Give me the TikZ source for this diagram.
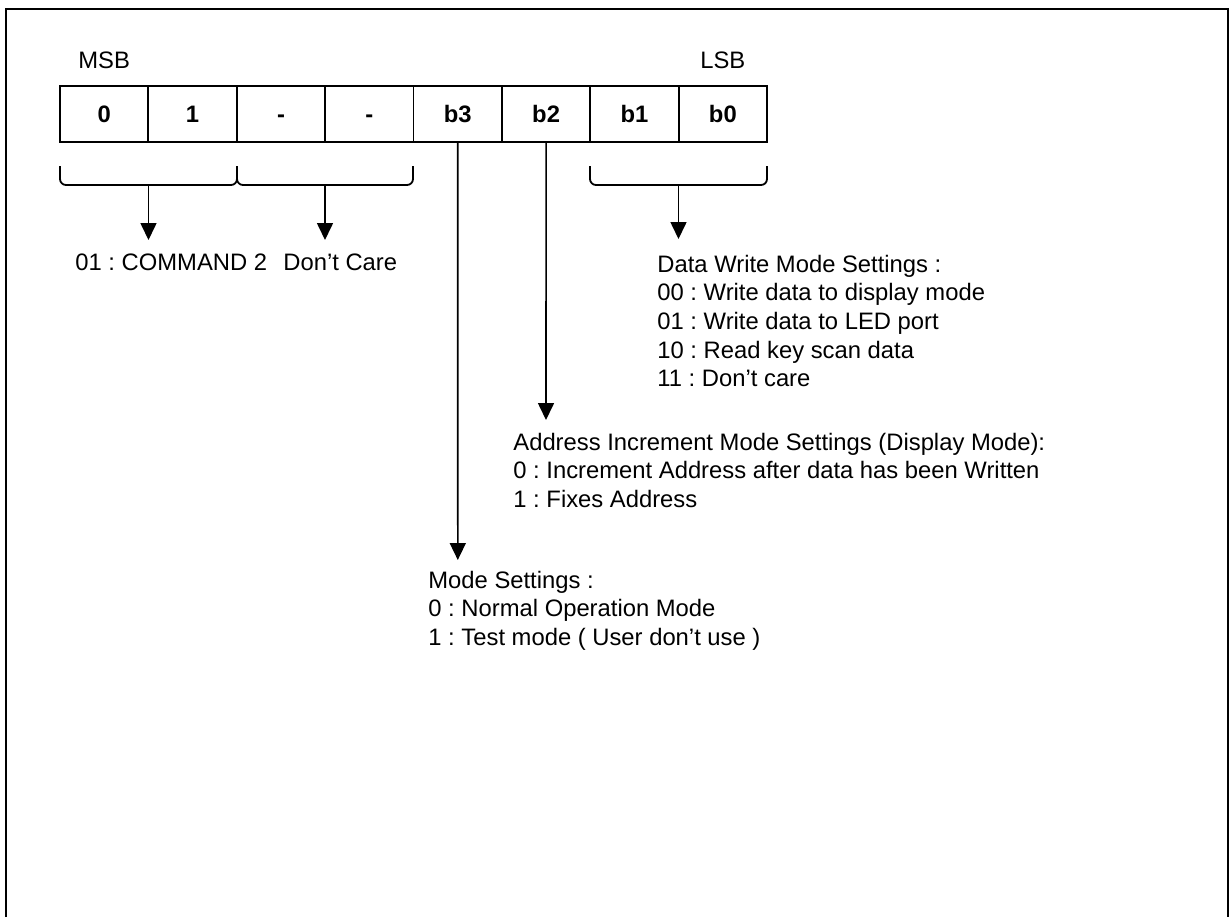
\documentclass[tikz,border=0pt]{standalone}
\usepackage{fontspec}
\setmainfont{Liberation Sans}
\usetikzlibrary{arrows.meta, positioning}
\frenchspacing

\begin{document}
\begin{tikzpicture}[
    x=0.5pt, y=-0.5pt,
    font=\fontsize{11.9}{14.35}\selectfont,
    bitcell/.style={rectangle, draw, line width=0.9pt, minimum width=44.19pt, minimum height=28pt, inner sep=0pt, outer sep=0pt, text height=8.5pt, text depth=0pt, font=\fontsize{11.9}{14.35}\selectfont\bfseries},
    note/.style={anchor=north west, align=left, inner sep=0pt},
    bracket/.style={line width=0.9pt, rounded corners=3pt},
    arrow/.style={-{Triangle[length=8.5pt, width=8pt]}, line width=0.8pt}
]
\useasboundingbox (0,0) rectangle (1231,917);

% Frame
\draw[line width=1pt] (6,917) -- (6,9) -- (1228,9) -- (1228,917);

% Register cells
\node[bitcell] (c1) at (104.2,114) {0};
\node[bitcell, right=0pt of c1] (c2) {1};
\node[bitcell, right=0pt of c2] (c3) {-};
\node[bitcell, right=0pt of c3] (c4) {-};
\node[bitcell, right=0pt of c4] (c5) {b3};
\node[bitcell, right=0pt of c5] (c6) {b2};
\node[bitcell, right=0pt of c6] (c7) {b1};
\node[bitcell, right=0pt of c7] (c8) {b0};
\draw[line width=1.3pt] (c1.north west) rectangle (c8.south east);

\node[inner sep=0pt, above=8.5pt of c1] (msb) {MSB};
\node[inner sep=0pt, above=8.5pt of c8] (lsb) {LSB};

% Brackets
\draw[bracket] (60,166) -- (60,185) -- (237,185) -- (237,166);
\draw[bracket] (237,166) -- (237,185) -- (413,185) -- (413,166);
\draw[bracket] (590,166) -- (590,185) -- (767,185) -- (767,166);

\coordinate (cmdfoot) at (148.5,185);
\coordinate (cmdtip) at (148.5,240);
\coordinate (dcfoot) at (325,185);
\coordinate (dctip) at (325,240);
\coordinate (datafoot) at (678.5,185);
\coordinate (datatip) at (678.5,239);
\coordinate (addrtip) at (546,420);
\coordinate (modetip) at (457.8,560);

% Descriptions
\node[inner sep=0pt, anchor=base west] (cmdtext) at (75,270) {01 : COMMAND 2};
\node[inner sep=0pt, anchor=base west] (dctext) at (283,270) {Don’t Care};
\node[note] (datatext) at (657,254.5) {Data Write Mode Settings :\\00 : Write data to display mode\\01 : Write data to LED port\\10 : Read key scan data\\11 : Don’t care};
\node[note] (addrtext) at (513,432.5) {Address Increment Mode Settings (Display Mode):\\0 : Increment Address after data has been Written\\1 : Fixes Address};
\node[note] (modetext) at (428,570.5) {Mode Settings :\\0 : Normal Operation Mode\\1 : Test mode ( User don’t use )};

% Arrows
\draw[arrow] (cmdfoot) -- (cmdtip);
\draw[arrow] (dcfoot) -- (dctip);
\draw[arrow] (datafoot) -- (datatip);
\draw[arrow] (c6.south) -- (addrtip);
\draw[arrow] (c5.south) -- (modetip);

\end{tikzpicture}
\end{document}
